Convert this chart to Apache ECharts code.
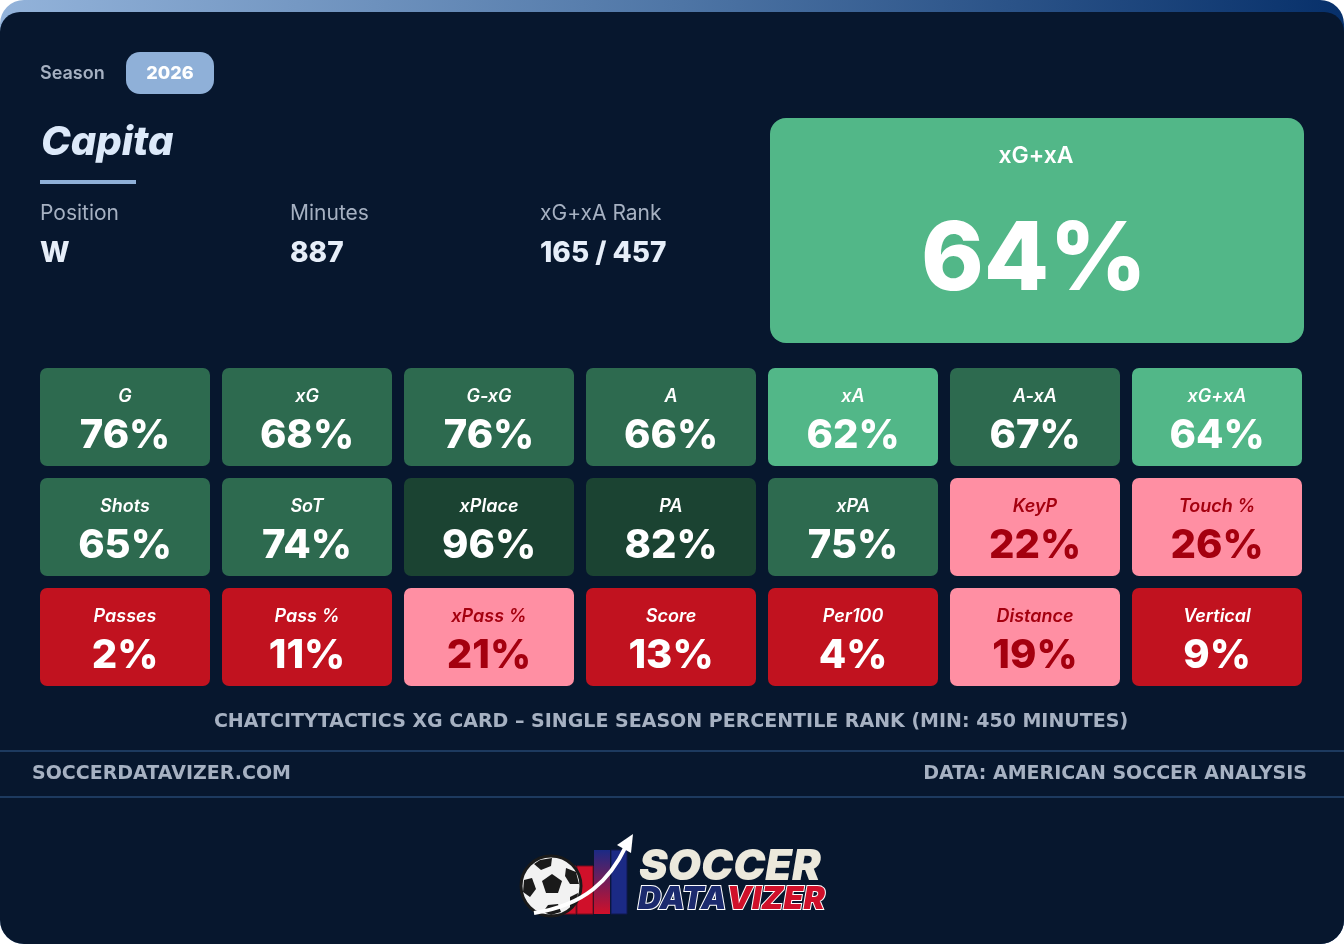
<!DOCTYPE html>
<html>
<head>
<meta charset="utf-8">
<script src="https://cdn.jsdelivr.net/npm/echarts@6/dist/echarts.min.js"></script>
<style>
html,body{margin:0;padding:0;background:#ffffff;}
#chart{width:1344px;height:944px;}
</style>
</head>
<body>
<div id="chart"></div>
<script>
// ---- data ----
const season = '2026';
const player = 'Capita';
const position = 'W';
const minutes = 887;
const rankLabel = 'xG+xA Rank';
const rankValue = '165 / 457';
const headlineMetric = 'xG+xA';
const headlineValue = 64;
const columns = ['c1','c2','c3','c4','c5','c6','c7'];
const rows = ['r1','r2','r3'];
const metrics = ['G','xG','G-xG','A','xA','A-xA','xG+xA',
                 'Shots','SoT','xPlace','PA','xPA','KeyP','Touch %',
                 'Passes','Pass %','xPass %','Score','Per100','Distance','Vertical'];
const percentiles = [76,68,76,66,62,67,64,
                     65,74,96,82,75,22,26,
                     2,11,21,13,4,19,9];
const footerTitle = 'CHATCITYTACTICS XG CARD – SINGLE SEASON PERCENTILE RANK (MIN: 450 MINUTES)';
const footerLeft = 'SOCCERDATAVIZER.COM';
const footerRight = 'DATA: AMERICAN SOCCER ANALYSIS';

// ---- styling helpers ----
function tileColor(v){
  if (v < 15) return {bg:'#c1121f', fg:'#ffffff'};
  if (v < 40) return {bg:'#ff8fa3', fg:'#a4000f'};
  if (v < 65) return {bg:'#52b788', fg:'#ffffff'};
  if (v < 80) return {bg:'#2d6a4f', fg:'#ffffff'};
  return {bg:'#1b4332', fg:'#ffffff'};
}
const FONT = 'Inter';
const BG = '#07172e';
const MUTED = '#a6b1c2';
const LIGHT = '#e6eef9';
const FOOTFONT = 'bold 19px "DejaVu Sans"';

const tileData = metrics.map((m, i) => [i % 7, Math.floor(i / 7), percentiles[i], m]);

const chart = echarts.init(document.getElementById('chart'), null, {renderer:'canvas'});

const hc = tileColor(headlineValue);

const graphics = [
  // card with gradient top border
  {type:'rect', z:-10, shape:{x:0,y:0,width:1344,height:944,r:24},
   style:{fill:new echarts.graphic.LinearGradient(0,0,1,0,[{offset:0,color:'#93b3da'},{offset:0.5,color:'#4f76a6'},{offset:1,color:'#07306a'}])}},
  {type:'rect', z:-9, shape:{x:0,y:12,width:1344,height:932,r:[20,20,24,24]}, style:{fill:BG}},
  // season
  {type:'text', style:{text:'Season', x:40, y:74, verticalAlign:'middle', fill:MUTED, font:'600 18px '+FONT}},
  {type:'rect', shape:{x:126,y:52,width:88,height:42,r:14}, style:{fill:'#8fb0d8'}},
  {type:'text', style:{text:season, x:170, y:74, align:'center', verticalAlign:'middle', fill:'#ffffff', font:'800 18px '+FONT}},
  // player
  {type:'text', style:{text:player, x:41, y:143, verticalAlign:'middle', fill:'#dce9f9', font:'italic 800 40px '+FONT}},
  {type:'rect', shape:{x:40,y:180,width:96,height:4}, style:{fill:'#8fb0d8'}},
  // info
  {type:'text', style:{text:'Position', x:40, y:214, verticalAlign:'middle', fill:MUTED, font:'400 21px '+FONT}},
  {type:'text', style:{text:position, x:40, y:254, verticalAlign:'middle', fill:LIGHT, font:'800 28px '+FONT}},
  {type:'text', style:{text:'Minutes', x:290, y:214, verticalAlign:'middle', fill:MUTED, font:'400 21px '+FONT}},
  {type:'text', style:{text:String(minutes), x:290, y:254, verticalAlign:'middle', fill:LIGHT, font:'800 28px '+FONT}},
  {type:'text', style:{text:rankLabel, x:540, y:214, verticalAlign:'middle', fill:MUTED, font:'400 21px '+FONT}},
  {type:'text', style:{text:rankValue, x:540, y:254, verticalAlign:'middle', fill:LIGHT, font:'800 28px '+FONT}},
  // headline tile
  {type:'rect', shape:{x:770,y:118,width:534,height:225,r:16}, style:{fill:hc.bg}},
  {type:'text', style:{text:headlineMetric, x:1036, y:156, align:'center', verticalAlign:'middle', fill:hc.fg, font:'600 23px '+FONT}},
  {type:'text', style:{text:headlineValue+'%', x:1034, y:261, align:'center', verticalAlign:'middle', fill:hc.fg, font:'800 95px '+FONT}},
  // footer
  {type:'text', style:{text:footerTitle, x:671, y:722, align:'center', verticalAlign:'middle', fill:MUTED, font:FOOTFONT}},
  {type:'rect', shape:{x:0,y:750,width:1344,height:2}, style:{fill:'#1d3a5f'}},
  {type:'text', style:{text:footerLeft, x:32, y:774, verticalAlign:'middle', fill:MUTED, font:FOOTFONT}},
  {type:'text', style:{text:footerRight, x:1307, y:774, align:'right', verticalAlign:'middle', fill:MUTED, font:FOOTFONT}},
  {type:'rect', shape:{x:0,y:796,width:1344,height:2}, style:{fill:'#1d3a5f'}},
  // logo bars
  {type:'rect', shape:{x:560,y:866,width:16,height:48}, style:{fill:'#d0102a', stroke:'#7a0a1a', lineWidth:1}},
  {type:'rect', shape:{x:577,y:866,width:16,height:48}, style:{fill:'#d0102a', stroke:'#7a0a1a', lineWidth:1}},
  {type:'rect', shape:{x:594,y:850,width:16,height:64}, style:{fill:new echarts.graphic.LinearGradient(0,0,0,1,[{offset:0,color:'#1b2a85'},{offset:1,color:'#d0102a'}])}},
  {type:'rect', shape:{x:611,y:850,width:16,height:64}, style:{fill:'#1b2a85', stroke:'#10184f', lineWidth:1}},
  // ball
  {type:'circle', shape:{cx:551,cy:886,r:30}, style:{fill:'#f2f2f2', stroke:'#1a1a1a', lineWidth:3}},
  {type:'polygon', shape:{points:[[552,874],[562,881],[558,893],[546,893],[542,881]]}, style:{fill:'#1a1a1a'}},
  {type:'polygon', shape:{points:[[540,860],[552,858],[551,866],[541,870],[534,864]]}, style:{fill:'#1a1a1a'}},
  {type:'polygon', shape:{points:[[566,868],[576,872],[579,884],[570,884],[565,876]]}, style:{fill:'#1a1a1a'}},
  {type:'polygon', shape:{points:[[524,880],[532,878],[536,889],[530,897],[523,892]]}, style:{fill:'#1a1a1a'}},
  {type:'polygon', shape:{points:[[548,905],[558,904],[561,912],[551,915],[543,912]]}, style:{fill:'#1a1a1a'}},
  {type:'polygon', shape:{points:[[570,897],[578,893],[577,902],[570,908]]}, style:{fill:'#1a1a1a'}},
  // arrow
  {type:'bezierCurve', shape:{x1:534,y1:913,cpx1:585,cpy1:905,cpx2:610,cpy2:880,x2:626,y2:846}, style:{stroke:'#ffffff', lineWidth:4, fill:null}},
  {type:'polygon', shape:{points:[[633,834],[631,853],[617,845]]}, style:{fill:'#ffffff'}},
  // logo text
  {type:'text', style:{text:'SOCCER', x:639, y:867, verticalAlign:'middle', fill:'#ece9dc', font:'italic 900 43px '+FONT}},
  {type:'text', style:{text:'{a|DATA}{b|VIZER}', x:638, y:899, verticalAlign:'middle',
     rich:{
       a:{fill:'#1b2a6e', stroke:'#ffffff', lineWidth:2, font:'italic 900 32px '+FONT},
       b:{fill:'#d0102a', stroke:'#ffffff', lineWidth:2, font:'italic 900 32px '+FONT}
     }}}
];

const option = {
  backgroundColor:'#ffffff',
  animation:false,
  grid:{left:34, top:362, width:1274, height:330},
  xAxis:{type:'category', data:columns, show:false},
  yAxis:{type:'category', data:rows, inverse:true, show:false},
  graphic:{elements:graphics},
  series:[{
    type:'custom',
    z:10,
    data:tileData,
    renderItem:function(params, api){
      const c = api.coord([api.value(0), api.value(1)]);
      const s = api.size([1,1]);
      const w = s[0]-12, h = s[1]-12;
      const v = api.value(2);
      const label = tileData[params.dataIndex][3];
      const col = tileColor(v);
      return {type:'group', children:[
        {type:'rect', shape:{x:c[0]-w/2, y:c[1]-h/2, width:w, height:h, r:7}, style:{fill:col.bg}},
        {type:'text', style:{text:label, x:c[0], y:c[1]-20, align:'center', verticalAlign:'middle', fill:col.fg, font:'italic 600 18px '+FONT}},
        {type:'text', style:{text:v+'%', x:c[0], y:c[1]+19, align:'center', verticalAlign:'middle', fill:col.fg, font:'800 40px '+FONT}}
      ]};
    }
  }]
};
chart.setOption(option);
</script>
</body>
</html>
